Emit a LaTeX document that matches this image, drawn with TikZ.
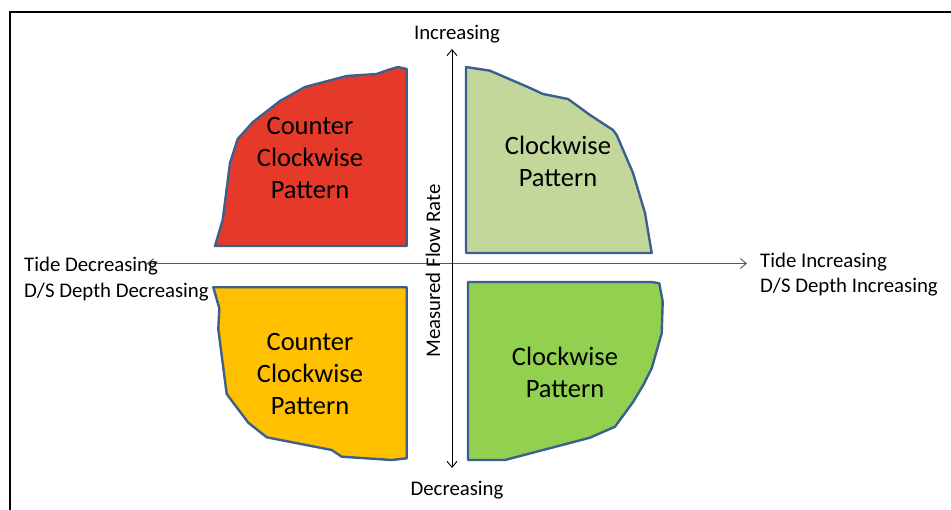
\documentclass[tikz,border=0pt]{standalone}
\usepackage{fontspec}
\setmainfont{Carlito}
\usetikzlibrary{arrows.meta}

\definecolor{ccwRed}{HTML}{E5392A}
\definecolor{cwPale}{HTML}{C4D79B}
\definecolor{ccwGold}{HTML}{FFC000}
\definecolor{cwGreen}{HTML}{92D050}
\definecolor{rim}{HTML}{3D5F8E}

\tikzstyle{every node}=[inner sep=0pt, text=black]
\tikzstyle{region}=[draw=rim, line width=2.4pt, line join=round]
\tikzstyle{pattern}=[align=center, font={\fontsize{26.5}{32}\selectfont}]
\tikzstyle{axislabel}=[font={\fontsize{20.8}{25}\selectfont}]
\tikzstyle{axisline}=[line width=0.9pt, -{Straight Barb[length=6pt,width=10pt]}]

\begin{document}
\begin{tikzpicture}[x=1pt, y=-1pt]
    \useasboundingbox (0,0) rectangle (951,510);
    % frame
    \draw [line width=1.6pt] (10,510) -- (10,12) -- (951,12);

    % quadrants
    \fill [ccwRed, region] (215,246) -- (222.7,220) -- (230,163) -- (237.7,139)
        -- (253,122) -- (280,101) -- (305,87) -- (346.7,76) -- (376.7,74)
        -- (388,70) -- (398,67) -- (406.7,69) -- (406.7,246) -- cycle;
    \fill [cwPale, region] (466,67) -- (490,70.7) -- (530,88) -- (543,94)
        -- (568,99) -- (590,115) -- (613,130) -- (616.7,135) -- (633,173)
        -- (645,213) -- (651.7,253) -- (466,253) -- cycle;
    \fill [ccwGold, region] (213.3,287.3) -- (406.7,287.3) -- (406.7,458.3)
        -- (391.7,460) -- (341.7,456.7) -- (331.7,450) -- (266.7,437.3)
        -- (248.3,422.7) -- (226.7,394) -- (218.3,329.3) -- (219.3,308.3) -- cycle;
    \fill [cwGreen, region] (468,282) -- (651.7,282) -- (659.3,283.3)
        -- (662.7,301.7) -- (661.7,333.3) -- (651.7,368.3) -- (643.3,385)
        -- (633.3,401.7) -- (615,426.7) -- (590,437.7) -- (505,460)
        -- (468,460) -- cycle;

    \node [pattern] (ccwHigh) at (310,158) {Counter\\Clockwise\\Pattern};
    \node [pattern] (cwHigh) at (558,161) {Clockwise\\Pattern};
    \node [pattern] (ccwLow) at (310,374) {Counter\\Clockwise\\Pattern};
    \node [pattern] (cwLow) at (565,372) {Clockwise\\Pattern};

    % axes
    \coordinate (flowMid) at (452,263.5);
    \coordinate (flowUp) at (452,49);
    \coordinate (flowDown) at (452,468);
    \coordinate (tideDown) at (147,263.5);
    \coordinate (tideUp) at (747,263.5);
    \draw [axisline, black!65] (flowMid) -- (tideUp);
    \draw [axisline, black!65] (flowMid) -- (tideDown);
    \draw [axisline] (flowMid) -- (flowUp);
    \draw [axisline] (flowMid) -- (flowDown);

    \node [axislabel] (upLabel) at (457,34) {Increasing};
    \node [axislabel] (downLabel) at (457,490) {Decreasing};
    \node [axislabel, rotate=90] (flowLabel) at (433,271) {Measured Flow Rate};
    \node [axislabel, anchor=west] (tideLow) at (24,266) {Tide Decreasing};
    \node [axislabel, anchor=west] (depthLow) at (24,292) {D/S Depth Decreasing};
    \node [axislabel, anchor=west] (tideHigh) at (760,262) {Tide Increasing};
    \node [axislabel, anchor=west] (depthHigh) at (760,287) {D/S Depth Increasing};
\end{tikzpicture}
\end{document}
